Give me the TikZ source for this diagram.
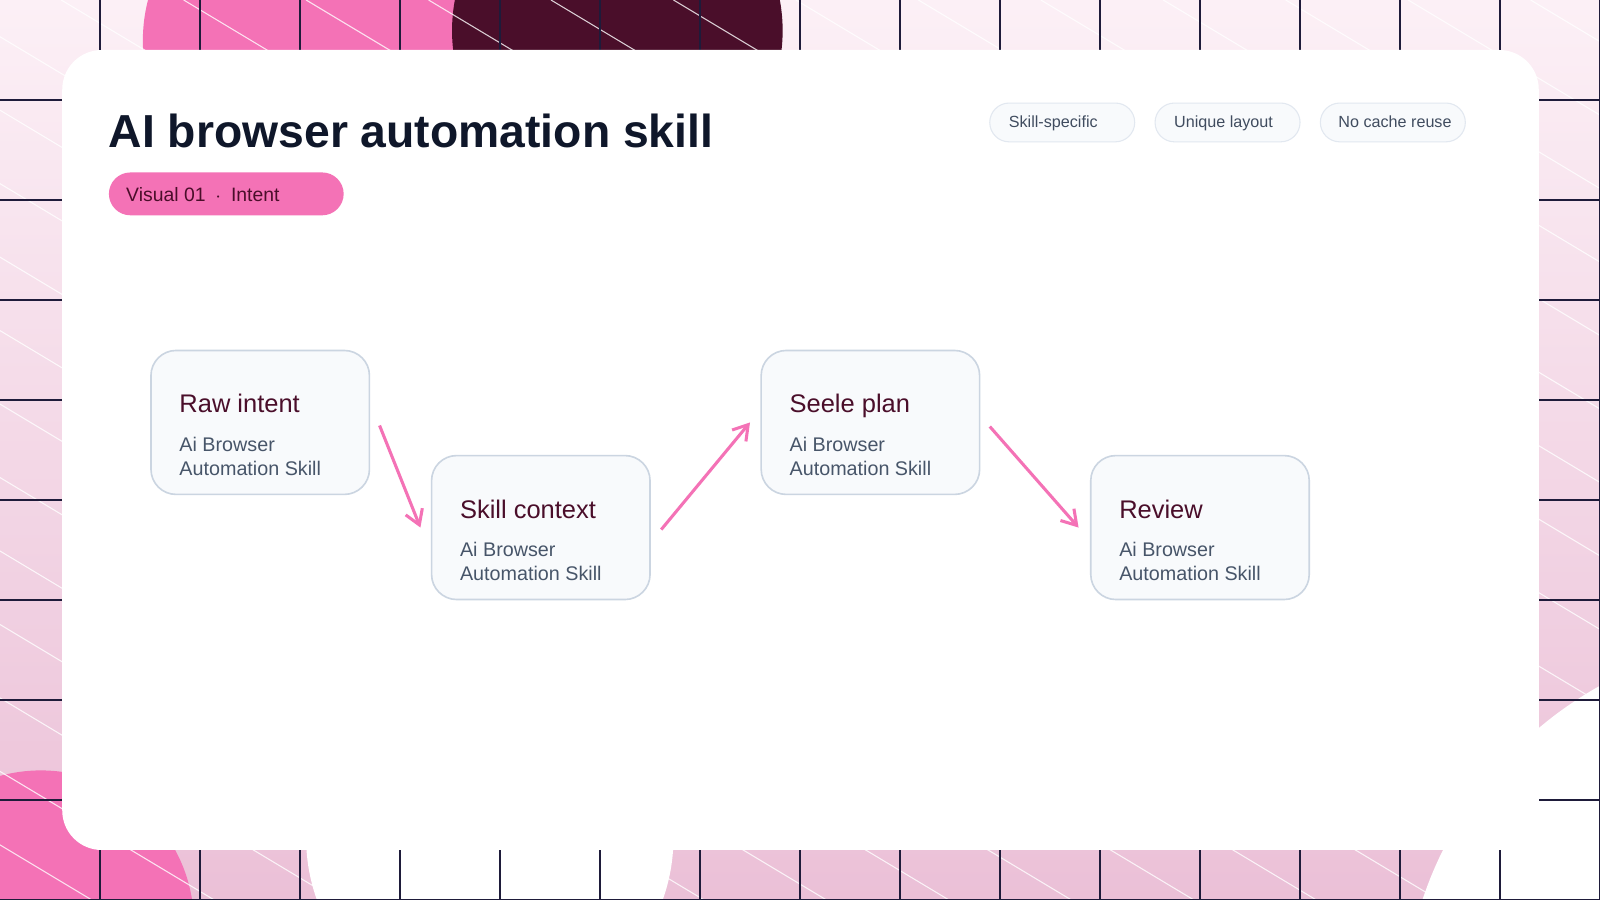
\documentclass[tikz,border=0pt]{standalone}
\usepackage{fontspec}
\setmainfont{Liberation Sans}
\usetikzlibrary{arrows.meta}
\definecolor{pinkA}{HTML}{F472B6}
\definecolor{maroon}{HTML}{4A0E2A}
\definecolor{bgtop}{HTML}{FCF0F6}
\definecolor{bgbot}{HTML}{EBC0D7}
\definecolor{gridc}{HTML}{1E1B3A}
\definecolor{boxfill}{HTML}{F8FAFC}
\definecolor{boxline}{HTML}{CBD5E1}
\definecolor{chipline}{HTML}{E2E8F0}
\definecolor{subc}{HTML}{475569}
\definecolor{titlec}{HTML}{0F172A}
\tikzset{
  stepbox/.style={draw=boxline, line width=0.45pt, fill=boxfill, rounded corners=7pt, minimum width=214*0.2845pt, minimum height=141*0.2845pt, inner sep=0pt},
  chip/.style={draw=chipline, line width=0.3pt, fill=boxfill, rounded corners=5.4pt, minimum width=142*0.2845pt, minimum height=38*0.2845pt, inner sep=0pt},
  chiptext/.style={anchor=base west, inner sep=0pt, font=\fontsize{4.5pt}{5pt}\selectfont, text=subc!90!black},
  boxtitle/.style={anchor=base west, font=\fontsize{7.1pt}{8pt}\selectfont, text=maroon},
  boxsub/.style={anchor=base west, font=\fontsize{5.5pt}{6.6pt}\selectfont, text=subc},
  flow/.style={draw=pinkA, line width=0.85pt, -{Straight Barb[length=4pt,width=5pt,line width=0.85pt]}}
}
\begin{document}
\begin{tikzpicture}[x=0.01cm,y=-0.01cm]
\useasboundingbox (0,0) rectangle (1568,882);
\shade[top color=bgtop, bottom color=bgbot] (0,0) rectangle (1568,882);
\begin{scope}
\clip (0,0) rectangle (1568,882);
\fill[pinkA] (300,40) circle (160);
\fill[maroon] (605,30) circle (162);
\fill[pinkA] (40,905) circle (150);
\fill[white] (480,821) circle (180);
\fill[white] (1750,1000) circle (375);
\foreach \k in {-1500,-1380,...,1600}
  \draw[white, opacity=0.8, line width=0.3pt] (\k,0) -- ++(1470,882);
\foreach \x in {98,196,...,1568}
  \draw[gridc, line width=0.3pt] (\x,0) -- (\x,882);
\foreach \y in {98,196,...,882}
  \draw[gridc, line width=0.3pt] (0,\y) -- (1568,\y);
\end{scope}
\fill[white, rounded corners=11pt] (61,49) rectangle (1508,833);
\node[anchor=base west, font=\bfseries\fontsize{12.9pt}{14pt}\selectfont, text=titlec, inner sep=0pt] (title) at (106,145) {AI browser automation skill};
\node[fill=pinkA, rounded corners=6pt, minimum width=230*0.2845pt, minimum height=42*0.2845pt, inner sep=0pt, anchor=west] (pill) at (106,190) {};
\node[anchor=base west, inner sep=0pt, font=\fontsize{5.4pt}{6pt}\selectfont, text=maroon] (pillt) at (123,197) {Visual 01 \,$\cdot$\, Intent};
\node[chip] (c1) at (1041,120) {};
\node[chip] (c2) at (1203,120) {};
\node[chip] (c3) at (1365,120) {};
\node[chiptext] (c1t) at (988,125) {Skill-specific};
\node[chiptext] (c2t) at (1150,125) {Unique layout};
\node[chiptext] (c3t) at (1311,125) {No cache reuse};
\node[stepbox] (b1) at (255,414) {};
\node[stepbox] (b2) at (530,517) {};
\node[stepbox] (b3) at (853,414) {};
\node[stepbox] (b4) at (1176,517) {};
\foreach \b/\t in {b1/Raw intent, b2/Skill context, b3/Seele plan, b4/Review}{
  \node[boxtitle, inner sep=0pt] (\b t) at ([xshift=28*0.2845pt, yshift=-62*0.2845pt]\b.north west) {\t};
  \node[boxsub, inner sep=0pt] (\b s) at ([xshift=28*0.2845pt, yshift=-100*0.2845pt]\b.north west) {Ai Browser};
  \node[boxsub, inner sep=0pt] (\b u) at ([xshift=28*0.2845pt, yshift=-123*0.2845pt]\b.north west) {Automation Skill};
}
\coordinate (a1s) at (372,417); \coordinate (a1e) at (412,517);
\coordinate (a2s) at (648,519); \coordinate (a2e) at (735,414);
\coordinate (a3s) at (970,418); \coordinate (a3e) at (1057,517);
\draw[flow] (a1s) -- (a1e);
\draw[flow] (a2s) -- (a2e);
\draw[flow] (a3s) -- (a3e);
\end{tikzpicture}
\end{document}
